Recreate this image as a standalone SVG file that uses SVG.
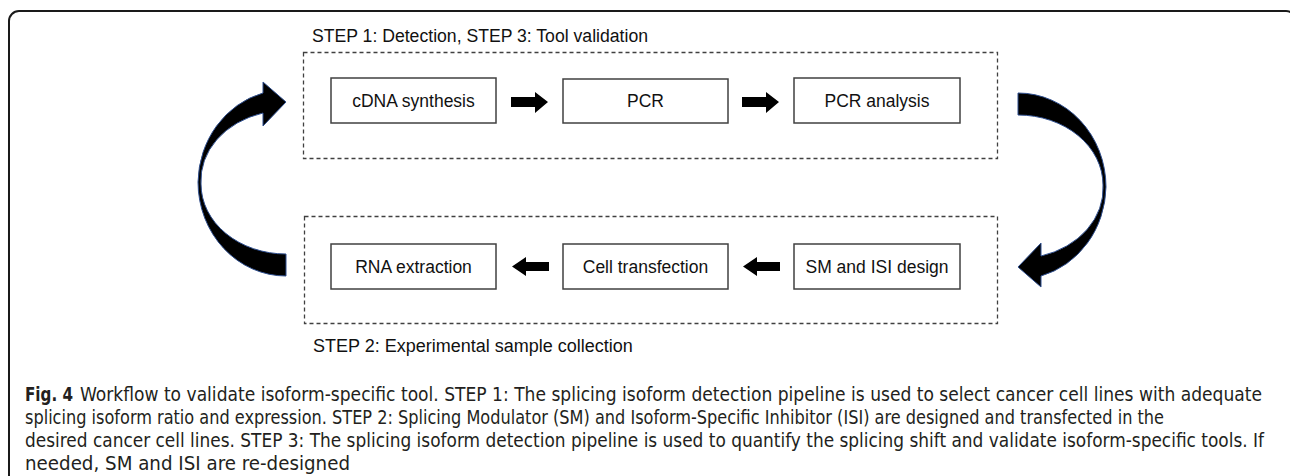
<svg xmlns="http://www.w3.org/2000/svg" width="1290" height="476" viewBox="0 0 1290 476">
<style>
.frame{fill:none;stroke:#1a1a1a;stroke-width:2}
.group{fill:none;stroke:#404040;stroke-width:1.3;stroke-dasharray:4 3}
.box{fill:#fff;stroke:#404040;stroke-width:1.5}
.lbl{font-family:"Liberation Sans",Arial,sans-serif;font-size:18px;fill:#111}
.btxt{font-family:"Liberation Sans",Arial,sans-serif;font-size:17.5px;fill:#111;text-anchor:middle}
.cap{font-family:"Liberation Sans Narrow","DejaVu Sans Condensed","Liberation Sans",sans-serif;font-size:19px;fill:#231f20}
.arr{fill:#000}
.curve{fill:#000;stroke:#2f4f8f;stroke-width:1}
</style>
<rect class="frame" x="9" y="11" width="1287" height="480" rx="10"/>
<g id="step1">
<rect class="group" x="303.5" y="52.5" width="694" height="106"/>
<text class="lbl" x="312" y="42" textLength="336" lengthAdjust="spacingAndGlyphs">STEP 1: Detection, STEP 3: Tool validation</text>
</g>
<g id="step2">
<rect class="group" x="304.5" y="216.5" width="693" height="107"/>
<text class="lbl" x="313" y="352">STEP 2: Experimental sample collection</text>
</g>
<g id="cdna"><rect class="box" x="331" y="78" width="165" height="45"/><text class="btxt" x="413.5" y="107">cDNA synthesis</text></g>
<g id="pcr"><rect class="box" x="563" y="79" width="165" height="44"/><text class="btxt" x="645.5" y="107">PCR</text></g>
<g id="pcra"><rect class="box" x="794" y="78" width="166" height="45"/><text class="btxt" x="877" y="107">PCR analysis</text></g>
<g id="rna"><rect class="box" x="331" y="244" width="165" height="45"/><text class="btxt" x="413.5" y="273">RNA extraction</text></g>
<g id="cell"><rect class="box" x="563" y="244" width="165" height="45"/><text class="btxt" x="645.5" y="273">Cell transfection</text></g>
<g id="smisi"><rect class="box" x="794" y="244" width="166" height="45"/><text class="btxt" x="877" y="273">SM and ISI design</text></g>
<g id="connectors">
<polygon class="arr" points="511,97 535,97 535,92 548,102 535,113 535,107 511,107"/>
<polygon class="arr" points="742,97 766,97 766,92 779,102 766,113 766,107 742,107"/>
<polygon class="arr" points="780,262 757,262 757,257 743,266.5 757,276 757,271 780,271"/>
<polygon class="arr" points="549,262 526,262 526,257 512,266.5 526,276 526,271 549,271"/>
<path class="curve" d="M286,276 A88,94 0 0 1 198,182 A88,94 0 0 1 263,93 L263,82 L286,102 L263,126 L263,113 A85,70 0 0 0 201,184 A85,70 0 0 0 286,254 Z"/>
<path class="curve" transform="rotate(180 652 184.5)" d="M286,276 A88,94 0 0 1 198,182 A88,94 0 0 1 263,93 L263,82 L286,102 L263,126 L263,113 A85,70 0 0 0 201,184 A85,70 0 0 0 286,254 Z"/>
</g>
<g id="caption">
<text class="cap" x="25" y="401" font-weight="bold" textLength="48" lengthAdjust="spacingAndGlyphs">Fig. 4</text>
<text class="cap" x="80" y="401" textLength="1182" lengthAdjust="spacingAndGlyphs">Workflow to validate isoform-specific tool. STEP 1: The splicing isoform detection pipeline is used to select cancer cell lines with adequate</text>
<text class="cap" x="25" y="424" textLength="1139" lengthAdjust="spacingAndGlyphs">splicing isoform ratio and expression. STEP 2: Splicing Modulator (SM) and Isoform-Specific Inhibitor (ISI) are designed and transfected in the</text>
<text class="cap" x="25" y="447" textLength="1239" lengthAdjust="spacingAndGlyphs">desired cancer cell lines. STEP 3: The splicing isoform detection pipeline is used to quantify the splicing shift and validate isoform-specific tools. If</text>
<text class="cap" x="25" y="470" textLength="325" lengthAdjust="spacingAndGlyphs">needed, SM and ISI are re-designed</text>
</g>
</svg>
